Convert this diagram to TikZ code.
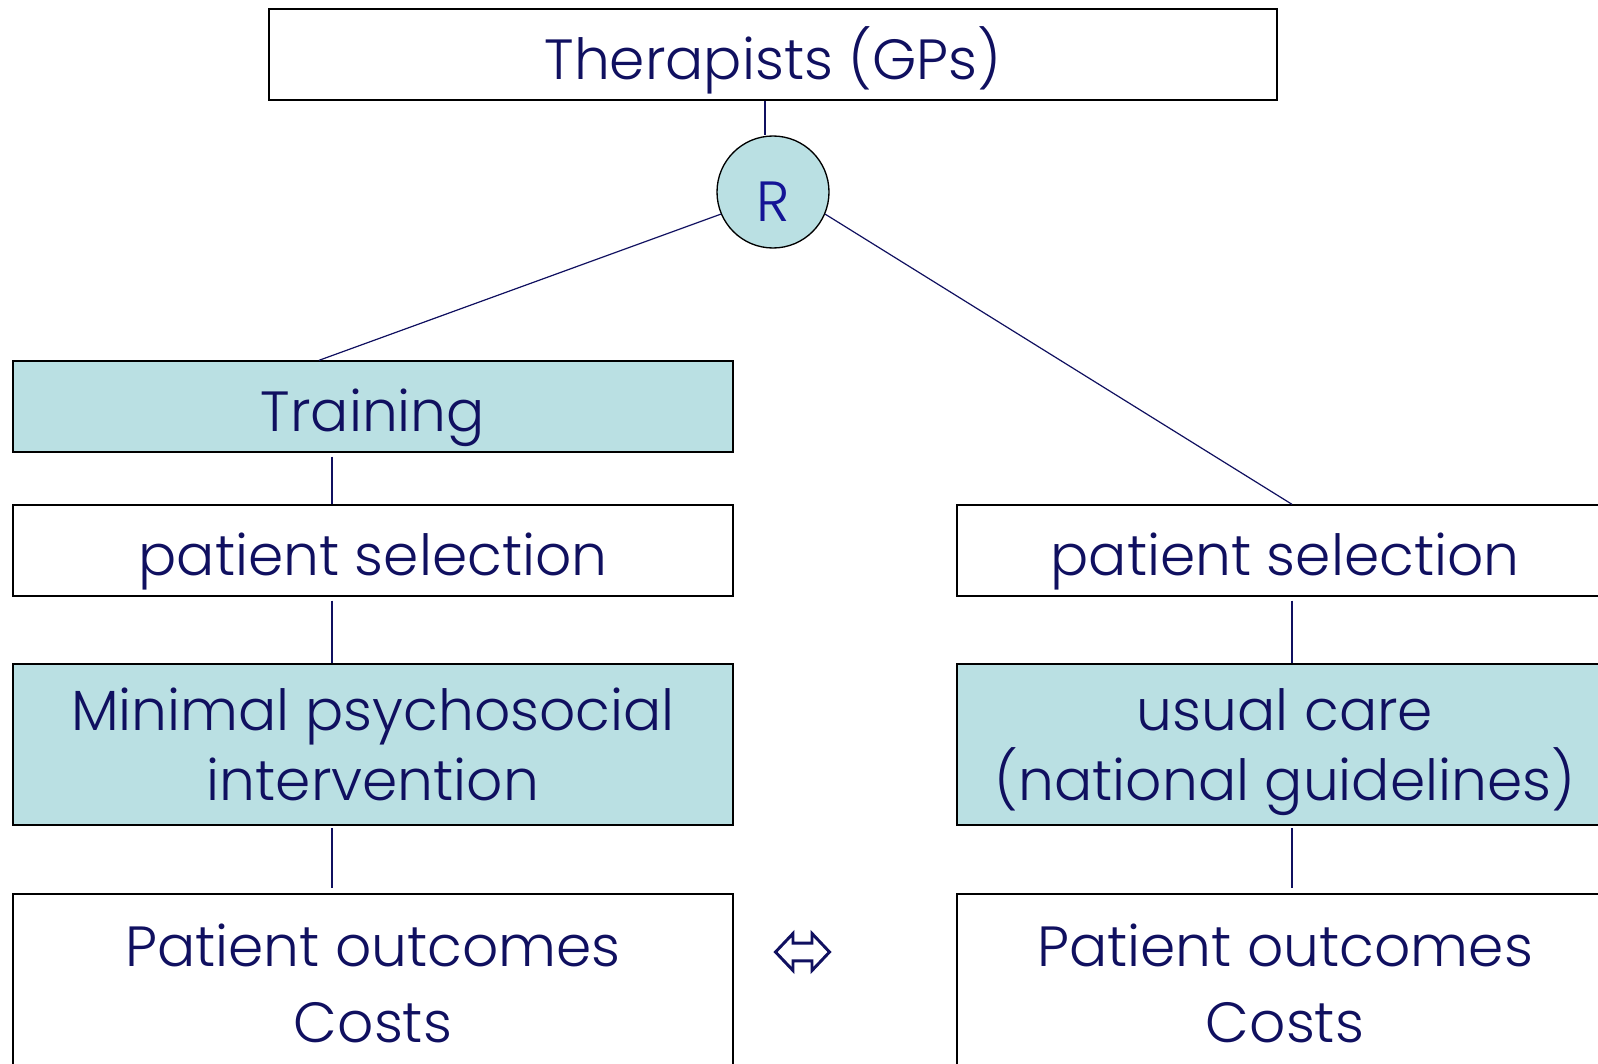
\documentclass[tikz,border=0pt]{standalone}
\usepackage{fontspec}
\setmainfont{Poppins Light}
\definecolor{navy}{RGB}{16,16,96}
\definecolor{rblue}{RGB}{20,20,150}
\definecolor{boxfill}{RGB}{186,224,227}
\begin{document}
\begin{tikzpicture}[x=0.75pt,y=-0.75pt,
 box/.style={draw=black, line width=1pt, rectangle, inner sep=0pt, text=navy, font=\fontsize{42.5}{52}\selectfont, align=center},
 one/.style={text height=36.8pt, text depth=0pt},
 filled/.style={box, fill=boxfill},
 conn/.style={draw=navy, line width=0.9pt},
 dblarrow/.style={draw=navy, line width=2.2pt, line join=miter, fill=white}]
\clip (0,0) rectangle (1598,1063);
\fill[white] (0,0) rectangle (1598,1063);
\node[box, one, minimum width=756pt, minimum height=68.25pt] (top) at (773,54.5) {Therapists (GPs)};
\node[circle, draw=black, line width=1pt, fill=boxfill, minimum size=84pt, inner sep=0pt, text=rblue, text height=44pt, text depth=0pt, font=\fontsize{42.5}{44}\selectfont] (R) at (773,192) {R};
\node[filled, one, minimum width=540pt, minimum height=68.25pt] (train) at (373,406.5) {Training};
\node[box, one, minimum width=540pt, minimum height=68.25pt] (psL) at (373,550.5) {patient selection};
\node[filled, minimum width=540pt, minimum height=120.75pt] (minL) at (373,744.5) {Minimal psychosocial\\intervention};
\node[box, minimum width=540pt, minimum height=133.5pt, font=\fontsize{42.5}{57}\selectfont] (outL) at (373,983) {Patient outcomes\\Costs};
\node[box, one, minimum width=492pt, minimum height=68.25pt] (psR) at (1285,550.5) {patient selection};
\node[filled, minimum width=492pt, minimum height=120.75pt] (ucR) at (1285,744.5) {usual care\\\raisebox{0pt}[\height][0pt]{(national guidelines)}};
\node[box, minimum width=492pt, minimum height=133.5pt, font=\fontsize{42.5}{57}\selectfont] (outR) at (1285,983) {Patient outcomes\\Costs};
\coordinate (eq) at (802.5,952);
\draw[dblarrow, shift={(eq)}] (-27,0) -- (-9.5,-18.5) -- (-9.5,-8.8) -- (9.5,-8.8) -- (9.5,-18.5) -- (27,0)
  -- (9.5,18.5) -- (9.5,8.8) -- (-9.5,8.8) -- (-9.5,18.5) -- cycle;
\draw[conn] ([xshift=-6pt]top.south) -- ([xshift=-6pt]R.north);
\draw[conn] (R.203) -- ([xshift=-40.5pt]train.north);
\draw[conn] (R.-23) -- ([xshift=5.25pt]psR.north);
\draw[conn, shorten <=3pt] ([xshift=-30.75pt]train.south) -- ([xshift=-30.75pt]psL.north);
\draw[conn, shorten <=3pt] ([xshift=-30.75pt]psL.south) -- ([xshift=-30.75pt]minL.north);
\draw[conn, shorten <=2pt, shorten >=4pt] ([xshift=-30.75pt]minL.south) -- ([xshift=-30.75pt]outL.north);
\draw[conn, shorten <=3pt] ([xshift=5.25pt]psR.south) -- ([xshift=5.25pt]ucR.north);
\draw[conn, shorten <=2pt, shorten >=4pt] ([xshift=5.25pt]ucR.south) -- ([xshift=5.25pt]outR.north);
\end{tikzpicture}
\end{document}
